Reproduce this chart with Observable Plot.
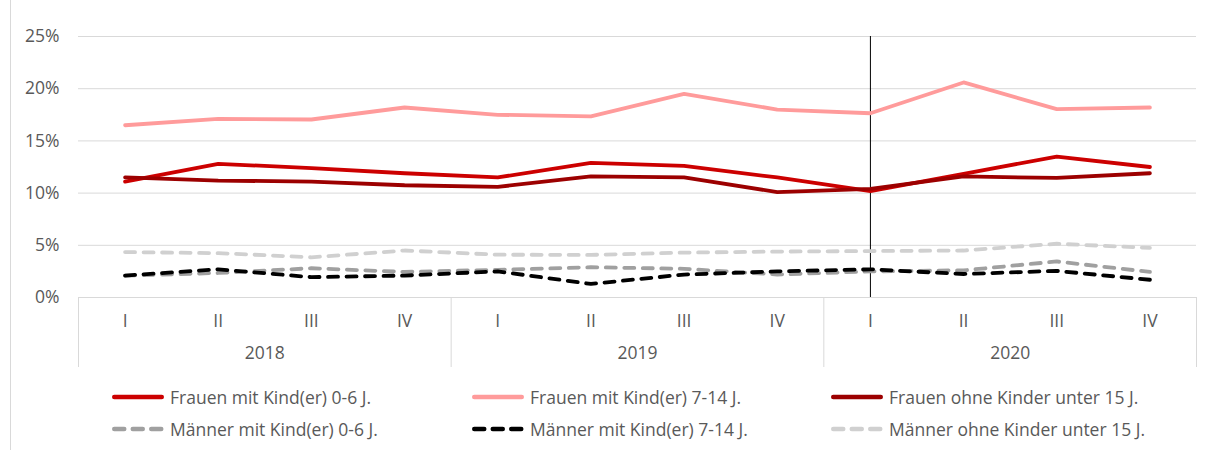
<!DOCTYPE html>
<html>
<head>
<meta charset="utf-8">
<script src="https://cdn.jsdelivr.net/npm/d3@7"></script>
<script src="https://cdn.jsdelivr.net/npm/@observablehq/plot@0.6"></script>
<style>
  html, body { margin: 0; padding: 0; background: #fff; }
  #wrap { position: relative; width: 1205px; height: 450px; overflow: hidden; font-family: "Open Sans", sans-serif; color: #595959; }
  #frame { position: absolute; left: 10px; top: 0; width: 1px; height: 450px; background: #d9d9d9; }
  #legend { position: absolute; left: 0; top: 380.5px; width: 1205px; }
  .item { position: absolute; height: 32px; display: flex; align-items: center; font-size: 17.5px; white-space: nowrap; }
  .item svg { margin-right: 6px; flex: none; }
</style>
</head>
<body>
<div id="wrap">
  <div id="frame"></div>
  <div id="chart"></div>
  <div id="legend"></div>
</div>
<script>
const quarters = ["I", "II", "III", "IV"];
const years = ["2018", "2019", "2020"];
const yTicks = [0, 5, 10, 15, 20, 25];

const seriesNames = [
  "Frauen mit Kind(er) 0-6 J.",
  "Frauen mit Kind(er) 7-14 J.",
  "Frauen ohne Kinder unter 15 J.",
  "Männer mit Kind(er) 0-6 J.",
  "Männer mit Kind(er) 7-14 J.",
  "Männer ohne Kinder unter 15 J."
];

const frauen0_6   = [11.1, 12.8, 12.4, 11.9, 11.5, 12.9, 12.6, 11.5, 10.2, 11.85, 13.5, 12.5];
const frauen7_14  = [16.5, 17.1, 17.05, 18.2, 17.5, 17.35, 19.5, 18.0, 17.65, 20.6, 18.05, 18.2];
const frauenOhne  = [11.5, 11.2, 11.1, 10.75, 10.6, 11.6, 11.5, 10.1, 10.4, 11.6, 11.45, 11.9];
const maenner0_6  = [2.1, 2.35, 2.8, 2.45, 2.65, 2.9, 2.75, 2.2, 2.5, 2.6, 3.45, 2.45];
const maenner7_14 = [2.1, 2.7, 1.95, 2.1, 2.5, 1.3, 2.2, 2.5, 2.7, 2.25, 2.55, 1.7];
const maennerOhne = [4.35, 4.25, 3.85, 4.5, 4.1, 4.08, 4.3, 4.4, 4.45, 4.5, 5.15, 4.75];

const seriesValues = [frauen0_6, frauen7_14, frauenOhne, maenner0_6, maenner7_14, maennerOhne];
const colors = ["#cc0000", "#ff9b9b", "#9c0000", "#a0a0a0", "#000000", "#d0d0d0"];
const dashed = [false, false, false, true, true, true];

const labels = [];
years.forEach(y => quarters.forEach(q => labels.push({year: y, q})));
const idx = d3.range(labels.length);

const lineMarks = seriesValues.map((vals, s) =>
  Plot.line(vals.map((v, i) => ({i, v})), {
    x: "i", y: "v",
    stroke: colors[s],
    strokeWidth: 3.8,
    strokeLinecap: "round",
    strokeLinejoin: "round",
    strokeDasharray: dashed[s] ? "10,8.5" : null
  })
);

const yearCenters = years.map((y, k) => ({x: k * 4 + 1.5, y}));
const separators = d3.range(years.length + 1).map(k => k * 4 - 0.5);

const chart = Plot.plot({
  width: 1205,
  height: 370,
  marginLeft: 78,
  marginRight: 9,
  marginTop: 36,
  marginBottom: 73,
  x: {type: "linear", domain: [-0.5, labels.length - 0.5], axis: null},
  y: {domain: [0, 25], axis: null},
  style: {fontFamily: "Open Sans, sans-serif", fontSize: "17.5px", color: "#595959", background: "transparent"},
  marks: [
    Plot.ruleY(yTicks, {stroke: "#d9d9d9", strokeWidth: 1}),
    Plot.axisY(yTicks, {tickSize: 0, tickPadding: 19, tickFormat: d => d + "%", label: null, fontSize: 17.5, fill: "#595959"}),
    Plot.axisX(separators, {tickSize: 70, tickFormat: () => "", label: null, stroke: "#d9d9d9", strokeOpacity: 1}),
    Plot.axisX(idx, {tickSize: 0, tickPadding: 17, tickFormat: i => labels[i].q, label: null, fontSize: 17.5, fill: "#595959"}),
    Plot.axisX(yearCenters.map(d => d.x), {tickSize: 0, tickPadding: 49, tickFormat: (d, k) => yearCenters[k].y, label: null, fontSize: 17.5, fill: "#595959"}),
    Plot.ruleX([8], {y1: 0, y2: 25, stroke: "#000", strokeWidth: 1}),
    ...lineMarks
  ]
});
document.getElementById("chart").appendChild(chart);

// Legend
const legend = document.getElementById("legend");
const colLeft = [112, 472, 831];
seriesNames.forEach((name, s) => {
  const row = s < 3 ? 0 : 1;
  const col = s % 3;
  const item = document.createElement("div");
  item.className = "item";
  item.style.left = colLeft[col] + "px";
  item.style.top = (row * 32) + "px";
  const dash = dashed[s] ? `stroke-dasharray="10,8.5"` : "";
  const x1 = 2.25, x2 = dashed[s] ? 49.25 : 49.75;
  item.innerHTML = `<svg width="52" height="10"><line x1="${x1}" y1="5" x2="${x2}" y2="5" stroke="${colors[s]}" stroke-width="4.5" stroke-linecap="round" ${dash}/></svg><span>${name}</span>`;
  legend.appendChild(item);
});
</script>
</body>
</html>
